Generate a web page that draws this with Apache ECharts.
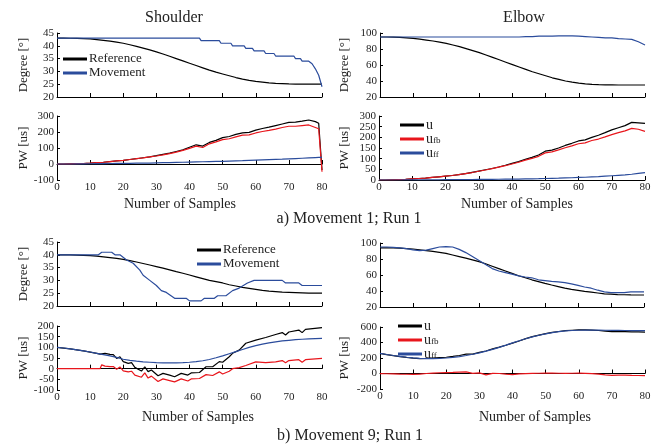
<!DOCTYPE html>
<html>
<head>
<meta charset="utf-8">
<script src="https://cdn.jsdelivr.net/npm/echarts@6/dist/echarts.min.js"></script>
<style>
  html, body { margin: 0; padding: 0; background: #fff; }
  #chart { width: 657px; height: 444px; }
</style>
</head>
<body>
<div id="chart"></div>
<script>
// sample positions (every 2nd sample)
var S = [0,2,4,6,8,10,12,14,16,18,20,22,24,26,28,30,32,34,36,38,40,42,44,46,48,50,52,54,56,58,60,62,64,66,68,70,72,74,76,78,80];
var S79 = [0,2,4,6,8,10,12,14,16,18,20,22,24,26,28,30,32,34,36,38,40,42,44,46,48,50,52,54,56,58,60,62,64,66,68,70,72,74,76,78,79,80];

// tick labels of the y axes
var degShTicks = [20,25,30,35,40,45];
var degElTicks = [20,40,60,80,100];
var pwAShTicks = [-100,0,100,200,300];
var pwAElTicks = [0,50,100,150,200,250,300];
var pwBShTicks = [-100,-50,0,50,100,150,200];
var pwBElTicks = [-200,0,200,400,600];

// a) Movement 1 - shoulder
var aShRef = [43,43,42.95,42.9,42.8,42.7,42.4,42.1,41.8,41.4,41,40.4,39.8,39.1,38.4,37.6,36.8,35.9,35,34.1,33.2,32.3,31.4,30.5,29.7,29,28.3,27.6,27,26.5,26.1,25.8,25.5,25.3,25.2,25.1,25.05,25,25,25,25];
var aShMov = [[0,43],[43,43],[43.5,42],[49,42],[49.5,41],[52.5,41],[53,40],[56.5,40],[57,39],[59,39],[59.5,38],[62.5,38],[63,37],[65.5,37],[66,36],[71.5,36],[72,35],[73.5,35],[74,34],[76,34],[77,33],[78,31],[79,28.5],[80,24]];
var aShU   = [0,0,1,2,3,5,8,11,15,19,23,28,33,39,45,52,60,68,78,88,105,120,112,135,148,165,172,185,195,198,212,222,230,240,250,260,262,268,275,265,255,-38];
var aShUfb = [0,0,1,2,3,5,8,11,15,19,23,28,33,38,44,50,57,65,74,85,98,112,103,126,138,152,158,170,180,182,194,203,210,218,228,236,236,240,244,228,220,-48];
var aShUff = [0,0,0,0.5,1,1.5,2,2.5,3,3.5,4,4.5,5,5.5,6,7,8,9,10,11,12,13,14,15,16,17,18.5,20,21,22.5,24,25.5,27,28.5,30,32,34,36,38,40,41,42];

// a) Movement 1 - elbow
var aElRef = [95,95,94.8,94.5,94,93.3,92.3,91.2,90,88.5,87,85,83,80.5,78,75.5,72.5,69.5,66.5,63.5,60.5,57.5,54.5,51.5,49,46.5,44,42,40,38.5,37.3,36.5,35.8,35.4,35.2,35.1,35,35,35,35,35];
var aElMov = [95,95,95,95,95,95,95,95,95,95,95,95,95,95,95,95,95,95,95,95,95,95,95.5,95.5,96,96,96,96.5,96.5,96.5,96,95.5,95,94.5,94,94,93,92.5,92,89,85];
var aElU   = [0,0,1,2,3,5,7,9,12,15,18,21,25,30,36,42,48,54,61,69,78,86,97,106,117,135,140,150,162,172,183,188,200,210,222,235,245,255,270,268,265];
var aElUfb = [0,0,1,2,3,5,7,9,12,15,18,21,25,30,35,41,47,53,60,67,75,83,93,101,111,127,132,141,151,160,170,174,185,192,202,213,222,230,242,238,228];
var aElUff = [0,0,0,0,0.5,0.5,1,1,1,1,1.5,1.5,2,2,2,2.5,3,3,3.5,4,4,4.5,5,5.5,6,7,8,8.5,9.5,10.5,12,13,14.5,16,18,20,22,24,27,31,35];

// b) Movement 9 - shoulder
var bShRef = [40,40,40,39.9,39.8,39.7,39.5,39.2,38.9,38.6,38.2,37.7,37.2,36.6,36,35.4,34.8,34.1,33.4,32.8,32.1,31.4,30.7,30,29.5,29,28.3,27.8,27.3,26.9,26.5,26.1,25.8,25.6,25.4,25.3,25.2,25.1,25,25,25];
var bShMov = [[0,40],[12.5,40],[13.5,41],[16.5,41],[17.5,40],[19,40],[21,38],[23,36.7],[25,34],[26,32],[28,30],[30,28],[31.5,26],[33,25.3],[35.5,23],[39,23],[40,22],[43.5,22],[44.5,23],[47.5,23],[48.5,24],[51,24],[53,26],[55,27],[57.5,29],[59.5,30],[68,30],[69,29],[73,29],[74,28],[80,28]];
var bShU   = [[0,100],[4,93],[8,83],[12,72],[13,68],[13.5,76],[14.5,72],[16,67],[17,66],[18,48],[19,56],[20,33],[21.5,25],[22.5,28],[23.5,6],[25.5,-11],[26.5,9],[27.5,-14],[28.5,-6],[30.5,-33],[32,-22],[34,-30],[35.5,-38],[37.5,-22],[39.5,-30],[40.5,-20],[43,-18],[45,9],[47,9],[49,33],[50,30],[52,56],[53,72],[55,87],[57,119],[60,134],[63,146],[66,160],[68,169],[69,158],[70,172],[73,181],[74,169],[75,184],[80,192]];
var bShUfb = [[0,0],[13,0],[13.5,18],[14.5,12],[16,10],[17,10],[18,-3],[19,8],[20,-10],[21.5,-15],[22.5,-12],[23.5,-30],[25.5,-40],[26.5,-20],[27.5,-44],[28.5,-35],[30.5,-60],[32,-48],[34,-56],[35.5,-62],[37.5,-48],[39.5,-58],[40.5,-48],[43,-46],[45,-28],[47,-32],[49,-15],[50,-25],[52,-12],[53,0],[55,5],[57,15],[60,32],[63,28],[66,32],[68,38],[69,28],[70,38],[73,42],[74,30],[75,42],[80,48]];
var bShUff = [100,97,93,88,83,78,72,66,60,53,44,39,35,32,30,28,27,27,27,28,30,33,37,43,51,60,70,80,90,100,108,115,121,126,130,133,136,138,140,141,142];

// b) Movement 9 - elbow
var bElRef = [94,94,93.8,93.5,93,92.5,91.5,90.5,89.5,88.3,87,85,83,81,79,76.7,74,71,68,65,62,59,56.5,54,51.8,49.6,47.5,45.5,43.5,42,40.8,39.5,38.5,37.5,36.5,36,35.5,35.3,35.1,35,35];
var bElMov = [95,95,94.5,94,93,91.5,90.5,91,93,95,95.5,95,92,88,83,78,73,68,65,63,61,59,57.5,56.5,54,53,52,51.5,50.5,49,47,45,43.5,41,39,38,38,38,39,39,39];
var bElU   = [260,243,230,218,207,198,192,195,200,205,210,220,232,250,250,272,290,318,340,365,392,420,450,475,495,515,530,542,552,558,562,562,560,555,548,540,542,540,538,537,535];
var bElUfb = [-2,-3,-5,-8,-10,-12,-8,0,6,10,12,14,18,20,2,8,-18,2,0,-8,-14,-6,-2,2,3,4,4,3,2,3,4,2,-2,-8,-18,-25,-22,-20,-24,-26,-28];
var bElUff = [260,245,232,220,210,202,195,192,192,195,200,208,218,232,248,266,288,312,338,366,395,422,448,472,494,512,527,540,549,555,558,560,560,559,558,557,556,555,554,553,552];

var FONT = "'Liberation Serif', 'Times New Roman', serif";
var BLACK = '#000000', RED = '#e8161c', BLUE = '#2b4c9c';

function zip(xs, ys) {
  return ys.map(function (y, i) { return [xs[i], y]; });
}

var grids = [
  { left: 57,  top: 33,  width: 265, height: 64 },
  { left: 57,  top: 116, width: 265, height: 64 },
  { left: 380, top: 33,  width: 265, height: 64 },
  { left: 379, top: 116, width: 266, height: 64 },
  { left: 57,  top: 242, width: 265, height: 64 },
  { left: 57,  top: 326, width: 265, height: 64 },
  { left: 380, top: 243, width: 264, height: 64 },
  { left: 380, top: 327, width: 265, height: 62 }
];

function xAx(i, labels) {
  return {
    gridIndex: i, type: 'value', min: 0, max: 80, interval: 10,
    axisLine: { lineStyle: { color: '#000', width: 1 } },
    axisTick: { inside: true, length: 4, lineStyle: { color: '#000' } },
    axisLabel: { show: labels, margin: 2, fontFamily: FONT, fontSize: 11, color: '#222' },
    splitLine: { show: false }
  };
}
// part: which tick labels this axis writes (dense axes are split in two
// overlaid axes so ECharts does not drop labels that touch)
function yAx(i, ticks, name, gap, part) {
  var shown = ticks.filter(function (v, k) {
    return part === undefined || k % 2 === part;
  });
  return {
    gridIndex: i, type: 'value', position: 'left', offset: 0,
    min: ticks[0], max: ticks[ticks.length - 1], interval: ticks[1] - ticks[0],
    name: part === 1 ? '' : name, nameLocation: 'middle', nameRotate: 90, nameGap: gap,
    nameTextStyle: { fontFamily: FONT, fontSize: 13, color: '#222' },
    axisLine: { show: part !== 1, lineStyle: { color: '#000', width: 1 } },
    axisTick: { show: part !== 1, inside: true, length: 3, lineStyle: { color: '#000' } },
    axisLabel: {
      customValues: shown, margin: 3, fontFamily: FONT, fontSize: 11, color: '#222',
      showMinLabel: true, showMaxLabel: true,
      formatter: function (v) { return shown.indexOf(v) >= 0 ? String(v) : ''; }
    },
    splitLine: { show: false }
  };
}
function line(name, i, data, color) {
  return {
    name: name, type: 'line', xAxisIndex: i, yAxisIndex: i, data: data,
    showSymbol: false, symbol: 'none', lineStyle: { color: color, width: 1.2 }, itemStyle: { color: color }
  };
}
function legendAt(names, left, top, lh) {
  return {
    data: names, orient: 'vertical', left: left, top: top, padding: 0,
    icon: 'rect', itemWidth: 24, itemHeight: 3, itemGap: 0, selectedMode: false,
    formatter: function (n) {
      if (n === 'u' || n === 'ufb' || n === 'uff') {
        return n === 'u' ? '{b|u}' : '{b|u}{s|' + n.slice(1) + '}';
      }
      return n;
    },
    textStyle: {
      fontFamily: FONT, fontSize: 13, color: '#222', lineHeight: lh, padding: [0, 0, 0, -3],
      rich: {
        b: { fontFamily: FONT, fontSize: 14, color: '#222', lineHeight: lh - 3 },
        s: { fontFamily: FONT, fontSize: 9, color: '#222', lineHeight: lh - 5, padding: [3, 0, 0, 0] }
      }
    }
  };
}
function label(text, x, y, size) {
  return {
    text: text, left: x, top: y, textAlign: 'center',
    textStyle: { fontFamily: FONT, fontSize: size, fontWeight: 'normal', color: '#222' }
  };
}

var option = {
  animation: false,
  backgroundColor: '#fff',
  title: [
    label('Shoulder', 169, 5, 16),
    label('Elbow', 519, 5, 16),
    label('Number of Samples', 175, 192, 14),
    label('Number of Samples', 512, 192, 14),
    label('a) Movement 1; Run 1', 344, 206, 16),
    label('Number of Samples', 193, 405, 14),
    label('Number of Samples', 530, 405, 14),
    label('b) Movement 9; Run 1', 345, 423, 16)
  ],
  legend: [
    legendAt(['Reference', 'Movement'], 63, 52, 14),
    legendAt(['u', 'ufb', 'uff'], 400, 118, 12.5),
    legendAt(['Reference', 'Movement'], 197, 243, 14),
    legendAt(['u', 'ufb', 'uff'], 398, 319, 12)
  ],
  grid: grids,
  xAxis: [xAx(0, false), xAx(1, true), xAx(2, false), xAx(3, true), xAx(4, false), xAx(5, true), xAx(6, false), xAx(7, true)],
  yAxis: [
    yAx(0, degShTicks, 'Degree [°]', 27),
    yAx(1, pwAShTicks, 'PW [us]', 27),
    yAx(2, degElTicks, 'Degree [°]', 29),
    yAx(3, pwAElTicks, 'PW [us]', 28, 0),
    yAx(4, degShTicks, 'Degree [°]', 27),
    yAx(5, pwBShTicks, 'PW [us]', 27, 0),
    yAx(6, degElTicks, '', 29),
    yAx(7, pwBElTicks, 'PW [us]', 29),
    yAx(3, pwAElTicks, '', 28, 1),
    yAx(5, pwBShTicks, '', 27, 1)
  ],
  series: [
    line('Reference', 0, zip(S, aShRef), BLACK),
    line('Movement', 0, aShMov, BLUE),
    line('u', 1, zip(S79, aShU), BLACK),
    line('ufb', 1, zip(S79, aShUfb), RED),
    line('uff', 1, zip(S79, aShUff), BLUE),
    line('Reference', 2, zip(S, aElRef), BLACK),
    line('Movement', 2, zip(S, aElMov), BLUE),
    line('u', 3, zip(S, aElU), BLACK),
    line('ufb', 3, zip(S, aElUfb), RED),
    line('uff', 3, zip(S, aElUff), BLUE),
    line('Reference', 4, zip(S, bShRef), BLACK),
    line('Movement', 4, bShMov, BLUE),
    line('u', 5, bShU, BLACK),
    line('ufb', 5, bShUfb, RED),
    line('uff', 5, zip(S, bShUff), BLUE),
    line('Reference', 6, zip(S, bElRef), BLACK),
    line('Movement', 6, zip(S, bElMov), BLUE),
    line('u', 7, zip(S, bElU), BLACK),
    line('ufb', 7, zip(S, bElUfb), RED),
    line('uff', 7, zip(S, bElUff), BLUE)
  ]
};

var chart = echarts.init(document.getElementById('chart'), null, { renderer: 'canvas' });
chart.setOption(option);
</script>
</body>
</html>
